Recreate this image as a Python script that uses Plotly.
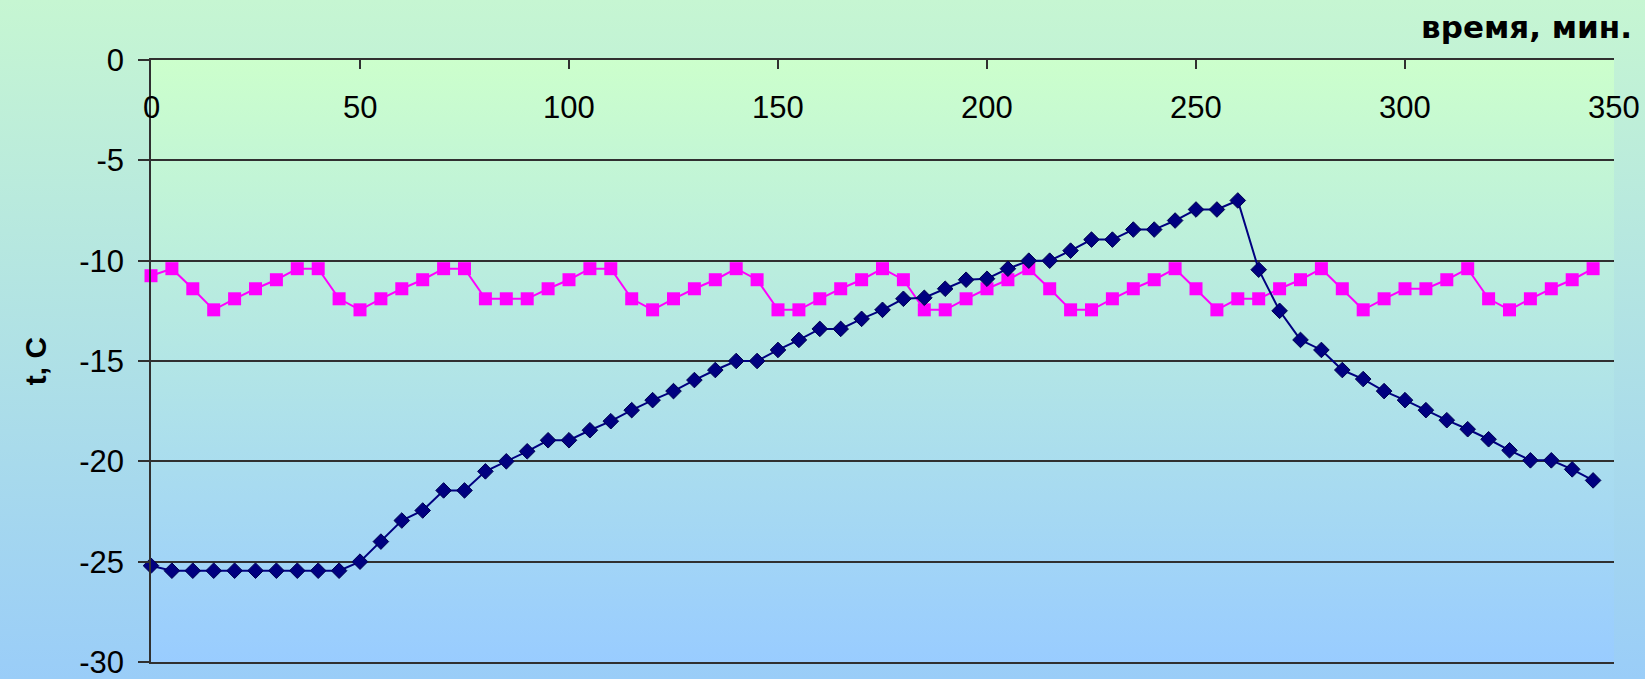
import base64
import plotly.graph_objects as go

# time, minutes
minutes = [0, 5, 10, 15, 20, 25, 30, 35, 40, 45,
           50, 55, 60, 65, 70, 75, 80, 85, 90, 95,
           100, 105, 110, 115, 120, 125, 130, 135, 140, 145,
           150, 155, 160, 165, 170, 175, 180, 185, 190, 195,
           200, 205, 210, 215, 220, 225, 230, 235, 240, 245,
           250, 255, 260, 265, 270, 275, 280, 285, 290, 295,
           300, 305, 310, 315, 320, 325, 330, 335, 340, 345]

# temperature of the product (navy diamonds)
product_t = [-25.2, -25.45, -25.45, -25.45, -25.45, -25.45, -25.45, -25.45, -25.45, -25.45,
             -25.0, -24.0, -22.95, -22.45, -21.45, -21.45, -20.5, -20.0, -19.5, -18.95,
             -18.95, -18.45, -18.0, -17.45, -16.95, -16.5, -15.95, -15.45, -15.0, -15.0,
             -14.45, -13.95, -13.4, -13.4, -12.9, -12.45, -11.9, -11.85, -11.4, -10.95,
             -10.9, -10.4, -10.0, -10.0, -9.5, -8.95, -8.95, -8.45, -8.45, -8.0,
             -7.45, -7.45, -7.0, -10.45, -12.5, -13.95, -14.45, -15.45, -15.9, -16.5,
             -16.95, -17.45, -17.95, -18.4, -18.9, -19.45, -19.95, -19.95, -20.4, -20.95]

# temperature of the chamber air (magenta squares)
air_t = [-10.75, -10.4, -11.4, -12.45, -11.9, -11.4, -10.95, -10.4, -10.4, -11.9,
         -12.45, -11.9, -11.4, -10.95, -10.4, -10.4, -11.9, -11.9, -11.9, -11.4,
         -10.95, -10.4, -10.4, -11.9, -12.45, -11.9, -11.4, -10.95, -10.4, -10.95,
         -12.45, -12.45, -11.9, -11.4, -10.95, -10.4, -10.95, -12.45, -12.45, -11.9,
         -11.4, -10.95, -10.4, -11.4, -12.45, -12.45, -11.9, -11.4, -10.95, -10.4,
         -11.4, -12.45, -11.9, -11.9, -11.4, -10.95, -10.4, -11.4, -12.45, -11.9,
         -11.4, -11.4, -10.95, -10.4, -11.9, -12.45, -11.9, -11.4, -10.95, -10.4]

x_ticks = [0, 50, 100, 150, 200, 250, 300, 350]
y_ticks = [-30, -25, -20, -15, -10, -5, 0]
y_tick_text = ["-30", "-25", "-20", "-15", "-10", "-5", "0"]

W, H = 1645, 679
L, R, T, B = 151, 31, 60, 17
AXIS_COLOR = "#303030"
TICK_FONT = dict(family="Liberation Sans, Arial, sans-serif", size=31, color="black")


def gradient_uri(top, bottom):
    svg = (
        '<svg xmlns="http://www.w3.org/2000/svg" width="100" height="100" '
        'viewBox="0 0 100 100" preserveAspectRatio="none">'
        '<defs><linearGradient id="g" x1="0" y1="0" x2="0" y2="1">'
        f'<stop offset="0" stop-color="{top}"/>'
        f'<stop offset="1" stop-color="{bottom}"/>'
        '</linearGradient></defs>'
        '<rect x="0" y="0" width="100" height="100" fill="url(#g)"/></svg>'
    )
    return "data:image/svg+xml;base64," + base64.b64encode(svg.encode()).decode()


pw = W - L - R
ph = H - T - B

fig = go.Figure()
fig.add_trace(go.Scatter(
    x=minutes, y=air_t, mode="lines+markers",
    line=dict(color="#ff00ff", width=2),
    marker=dict(symbol="square", size=13, color="#ff00ff"),
    showlegend=False, cliponaxis=False,
))
fig.add_trace(go.Scatter(
    x=minutes, y=product_t, mode="lines+markers",
    line=dict(color="#000080", width=2),
    marker=dict(symbol="diamond", size=12, color="#000080",
                line=dict(color="#000050", width=1)),
    showlegend=False, cliponaxis=False,
))

# time labels sit just under the top axis line, inside the plot
annotations = [
    dict(x=v, y=0, xref="x", yref="y", text=str(v), showarrow=False,
         xanchor="center", yanchor="middle", yshift=-47, font=TICK_FONT)
    for v in x_ticks
]

fig.update_layout(
    width=W, height=H,
    margin=dict(l=L, r=R, t=T, b=B, autoexpand=False),
    paper_bgcolor="#9acdf8",
    plot_bgcolor="rgba(0,0,0,0)",
    font=dict(family="Liberation Sans, Arial, sans-serif", color="black"),
    title=dict(
        text="время, мин.", xref="container", yref="container",
        x=1632 / W, xanchor="right", y=1 - 27 / H, yanchor="middle",
        font=dict(family="DejaVu Sans, sans-serif", size=31, color="black", weight="bold"),
    ),
    annotations=annotations,
    images=[
        dict(source=gradient_uri("#c6f6d2", "#9acdf8"), xref="paper", yref="paper",
             x=-L / pw, y=1 + T / ph, sizex=W / pw, sizey=H / ph,
             xanchor="left", yanchor="top", sizing="stretch", layer="below"),
        dict(source=gradient_uri("#ccffcc", "#99ccff"), xref="x", yref="y",
             x=0, y=0, sizex=350, sizey=30,
             xanchor="left", yanchor="top", sizing="stretch", layer="below"),
    ],
    xaxis=dict(
        range=[0, 350], side="top", tickvals=x_ticks, showticklabels=False,
        ticks="inside", ticklen=9, tickwidth=1.5, tickcolor=AXIS_COLOR,
        showgrid=False, zeroline=False, automargin=False,
        showline=True, mirror=True, linecolor=AXIS_COLOR, linewidth=1.5,
    ),
    yaxis=dict(
        range=[-30, 0], tickvals=y_ticks, ticktext=y_tick_text,
        ticks="outside", ticklen=11, tickwidth=1.5, tickcolor=AXIS_COLOR,
        ticklabelstandoff=8, ticklabeloverflow="allow",
        tickfont=TICK_FONT, automargin=False,
        showgrid=True, gridcolor=AXIS_COLOR, gridwidth=1.5, zeroline=False,
        showline=True, linecolor=AXIS_COLOR, linewidth=1.5,
        title=dict(text="t, C", standoff=24,
                   font=dict(size=30, weight="bold", family="Liberation Sans, Arial, sans-serif")),
    ),
)

fig.write_html("out.html")
